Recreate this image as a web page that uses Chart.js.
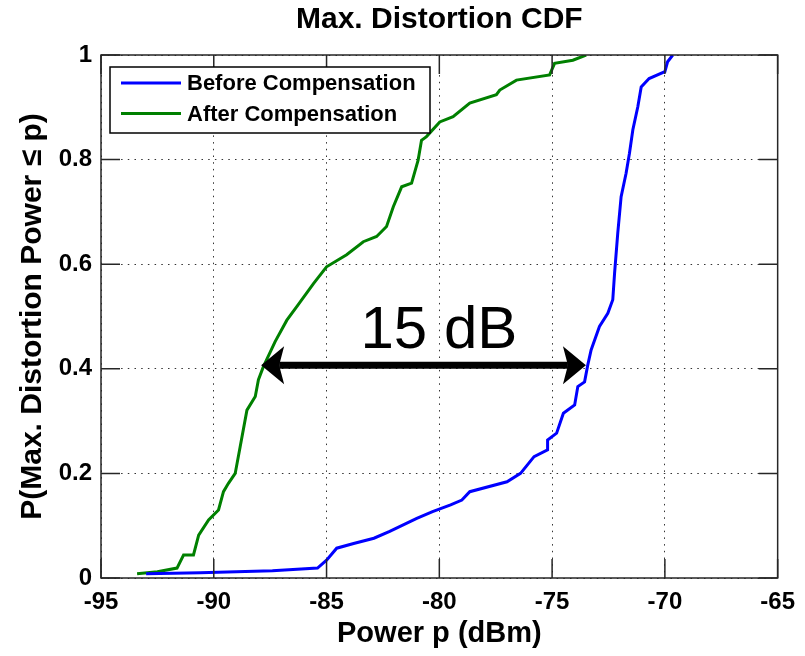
<!DOCTYPE html>
<html>
<head>
<meta charset="utf-8">
<script src="https://cdn.jsdelivr.net/npm/chart.js@4.4.1/dist/chart.umd.min.js"></script>
<style>
  html, body { margin: 0; padding: 0; background: #fff; }
  #wrap { width: 805px; height: 656px; }
</style>
</head>
<body>
<div id="wrap"><canvas id="chart" width="805" height="656"></canvas></div>
<script>
// data
const beforeX = [-93.0, -90.6, -87.4, -85.4, -85.0, -84.55, -83.8, -82.9, -82.2, -81.0, -80.3, -79.5, -79.0, -78.65, -77.0, -76.4, -75.8, -75.2, -75.2, -74.8, -74.5, -74.0, -73.86, -73.56, -73.42, -73.27, -72.9, -72.53, -72.31, -72.23, -72.09, -71.94, -71.72, -71.57, -71.42, -71.2, -71.05, -70.7, -70.0, -69.88, -69.65];
const beforeY = [0.008, 0.01, 0.014, 0.019, 0.034, 0.057, 0.066, 0.076, 0.089, 0.114, 0.127, 0.14, 0.149, 0.165, 0.184, 0.2, 0.232, 0.245, 0.264, 0.277, 0.315, 0.331, 0.366, 0.375, 0.407, 0.436, 0.481, 0.506, 0.532, 0.583, 0.659, 0.729, 0.774, 0.812, 0.857, 0.901, 0.939, 0.955, 0.968, 0.987, 1.0];

const afterX = [-93.4, -92.5, -91.63, -91.34, -90.9, -90.67, -90.23, -89.79, -89.57, -89.35, -89.05, -88.83, -88.53, -88.16, -88.02, -87.8, -87.28, -86.76, -86.32, -85.58, -85.0, -84.11, -83.37, -82.78, -82.34, -82.04, -81.67, -81.23, -80.94, -80.79, -80.57, -79.98, -79.39, -78.65, -77.47, -77.32, -76.58, -75.11, -74.89, -74.08, -73.49];
const afterY = [0.008, 0.012, 0.019, 0.044, 0.044, 0.082, 0.111, 0.13, 0.165, 0.181, 0.2, 0.251, 0.321, 0.347, 0.379, 0.404, 0.452, 0.493, 0.519, 0.563, 0.595, 0.618, 0.643, 0.653, 0.672, 0.71, 0.748, 0.755, 0.799, 0.837, 0.844, 0.872, 0.882, 0.908, 0.924, 0.933, 0.952, 0.962, 0.984, 0.99, 1.0];

const seriesNames = ['Before Compensation', 'After Compensation'];
const xTicks = [-95, -90, -85, -80, -75, -70, -65];
const yTicks = [0, 0.2, 0.4, 0.6, 0.8, 1];
const yTickLabels = ['0', '0.2', '0.4', '0.6', '0.8', '1'];

// 15 dB annotation
const arrowFrom = -87.9;
const arrowTo = -73.5;
const arrowP = 0.407;
const noteText = '15 dB';
const noteX = -80.02;
const noteP = 0.44;

const FONT = '"Liberation Sans", Arial, Helvetica, sans-serif';

function toPoints(xs, ys) {
  return xs.map((x, i) => ({ x: x, y: ys[i] }));
}

// title, axes box, inward ticks, legend, arrow
const matlabLook = {
  id: 'matlabLook',
  afterDatasetsDraw(chart) {
    const ctx = chart.ctx;
    const a = chart.chartArea;
    const xs = chart.scales.x;
    const ys = chart.scales.y;

    ctx.save();

    // title
    ctx.fillStyle = '#000';
    ctx.font = 'bold 30px ' + FONT;
    ctx.textAlign = 'center';
    ctx.textBaseline = 'middle';
    ctx.fillText('Max. Distortion CDF', (a.left + a.right) / 2, 20);

    // box
    ctx.strokeStyle = '#262626';
    ctx.lineWidth = 1.5;
    ctx.strokeRect(a.left, a.top, a.right - a.left, a.bottom - a.top);

    // ticks pointing in
    const tl = 19;
    ctx.beginPath();
    xTicks.forEach(v => {
      const px = xs.getPixelForValue(v);
      ctx.moveTo(px, a.bottom); ctx.lineTo(px, a.bottom - tl);
      ctx.moveTo(px, a.top); ctx.lineTo(px, a.top + tl);
    });
    yTicks.forEach(v => {
      const py = ys.getPixelForValue(v);
      ctx.moveTo(a.left, py); ctx.lineTo(a.left + tl, py);
      ctx.moveTo(a.right, py); ctx.lineTo(a.right - tl, py);
    });
    ctx.stroke();

    // legend
    const lx = a.left + 9, ly = a.top + 12, lw = 320, lh = 66;
    ctx.fillStyle = '#fff';
    ctx.fillRect(lx, ly, lw, lh);
    ctx.strokeStyle = '#000';
    ctx.lineWidth = 1.5;
    ctx.strokeRect(lx, ly, lw, lh);
    ctx.font = 'bold 22px ' + FONT;
    ctx.textAlign = 'left';
    chart.data.datasets.forEach((ds, i) => {
      const yy = ly + 16 + i * 30.5;
      ctx.strokeStyle = ds.borderColor;
      ctx.lineWidth = 3;
      ctx.beginPath();
      ctx.moveTo(lx + 11, yy);
      ctx.lineTo(lx + 71, yy);
      ctx.stroke();
      ctx.fillStyle = '#000';
      ctx.fillText(ds.label, lx + 77, yy + 1);
    });

    // double arrow
    const x0 = xs.getPixelForValue(arrowFrom);
    const x1 = xs.getPixelForValue(arrowTo);
    const y0 = ys.getPixelForValue(arrowP);
    const hl = 23, hw = 19, notch = 18;
    ctx.strokeStyle = '#000';
    ctx.lineWidth = 7;
    ctx.beginPath();
    ctx.moveTo(x0 + notch, y0);
    ctx.lineTo(x1 - notch, y0);
    ctx.stroke();
    ctx.fillStyle = '#000';
    ctx.beginPath();
    ctx.moveTo(x0, y0);
    ctx.lineTo(x0 + hl, y0 - hw);
    ctx.lineTo(x0 + notch, y0);
    ctx.lineTo(x0 + hl, y0 + hw);
    ctx.closePath();
    ctx.fill();
    ctx.beginPath();
    ctx.moveTo(x1, y0);
    ctx.lineTo(x1 - hl, y0 - hw);
    ctx.lineTo(x1 - notch, y0);
    ctx.lineTo(x1 - hl, y0 + hw);
    ctx.closePath();
    ctx.fill();

    // label
    ctx.font = '60px ' + FONT;
    ctx.textAlign = 'center';
    ctx.textBaseline = 'alphabetic';
    ctx.fillText(noteText, xs.getPixelForValue(noteX), ys.getPixelForValue(noteP));

    ctx.restore();
  }
};

const ctx = document.getElementById('chart').getContext('2d');
new Chart(ctx, {
  type: 'line',
  data: {
    datasets: [
      {
        label: seriesNames[0],
        data: toPoints(beforeX, beforeY),
        borderColor: '#0000ff',
        borderWidth: 3,
        pointRadius: 0,
        tension: 0,
        fill: false
      },
      {
        label: seriesNames[1],
        data: toPoints(afterX, afterY),
        borderColor: '#008000',
        borderWidth: 3,
        pointRadius: 0,
        tension: 0,
        fill: false
      }
    ]
  },
  options: {
    responsive: false,
    animation: false,
    layout: { padding: { top: 55, right: 26, left: 0, bottom: 0 } },
    plugins: {
      legend: { display: false },
      title: { display: false },
      tooltip: { enabled: false }
    },
    scales: {
      x: {
        type: 'linear',
        min: -95,
        max: -65,
        afterBuildTicks: scale => { scale.ticks = xTicks.map(v => ({ value: v })); },
        afterFit: scale => { scale.height = 78; },
        ticks: {
          color: '#000',
          padding: 10,
          maxRotation: 0,
          font: { family: FONT, size: 24, weight: 'bold' },
          callback: v => String(v)
        },
        grid: { color: '#333', lineWidth: 1, drawTicks: false },
        border: { display: false, dash: [1.5, 5.2] },
        title: {
          display: true,
          text: 'Power p (dBm)',
          color: '#000',
          padding: { top: 0, bottom: 5 },
          font: { family: FONT, size: 29, weight: 'bold' }
        }
      },
      y: {
        type: 'linear',
        min: 0,
        max: 1,
        afterBuildTicks: scale => { scale.ticks = yTicks.map(v => ({ value: v })); },
        afterFit: scale => { scale.width = 101; },
        ticks: {
          color: '#000',
          padding: 9,
          font: { family: FONT, size: 24, weight: 'bold' },
          callback: (v, i) => yTickLabels[i]
        },
        grid: { color: '#333', lineWidth: 1, drawTicks: false },
        border: { display: false, dash: [1.5, 5.2] },
        title: {
          display: true,
          text: 'P(Max. Distortion Power \u2264 p)',
          color: '#000',
          padding: { top: 15, bottom: 0 },
          font: { family: FONT, size: 30, weight: 'bold' }
        }
      }
    }
  },
  plugins: [matlabLook]
});
</script>
</body>
</html>
